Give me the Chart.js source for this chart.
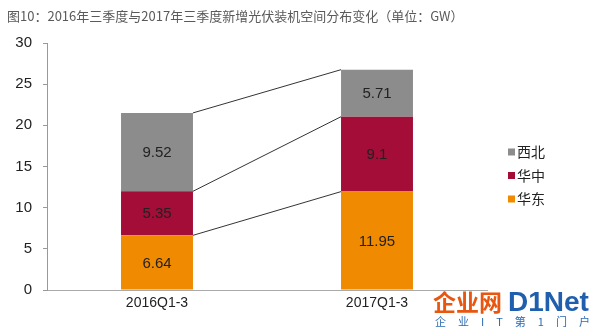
<!DOCTYPE html>
<html>
<head>
<meta charset="utf-8">
<script src="https://cdn.jsdelivr.net/npm/chart.js@4"></script>
<style>
  html, body { margin: 0; padding: 0; background: #fff; }
  #wrap { position: relative; width: 593px; height: 331px; }
  #title {
    position: absolute; left: 7px; top: 6px;
    font: 13px "Noto Sans CJK SC", "Liberation Sans", sans-serif;
    color: #5a5a5a; white-space: nowrap;
  }
  #logo { position: absolute; left: 433px; top: 284px; white-space: nowrap; }
  #logo .cn { font: bold 23px "Noto Sans CJK SC", sans-serif; color: #e8560f; letter-spacing: 0px; }
  #logo .en { font: bold 28px "Liberation Sans", sans-serif; color: #1f5fae; margin-left: 6px; }
  #logo .sub { font: 11px "Noto Sans CJK SC", sans-serif; color: #2a6cb3; letter-spacing: 12px; margin-top: -5px; padding-left: 2px; }
</style>
</head>
<body>
<div id="wrap">
  <canvas id="chart" width="593" height="331"></canvas>
  <div id="title">图10：2016年三季度与2017年三季度新增光伏装机空间分布变化（单位：GW）</div>
  <div id="logo">
    <div><span class="cn">企业网</span><span class="en">D1Net</span></div>
    <div class="sub">企业IT第1门户</div>
  </div>
</div>
<script>
const periods = ['2016Q1-3', '2017Q1-3']
const eastChina = [6.64, 11.95]
const centralChina = [5.35, 9.1]
const northwest = [9.52, 5.71]

const seriesNames = ['华东', '华中', '西北']
const seriesColors = ['#f08a00', '#a30d37', '#8c8c8c']

const baseFont = '"Liberation Sans", "Noto Sans CJK SC", sans-serif'

// value labels in the middle of each segment
const segmentLabels = {
  id: 'segmentLabels',
  afterDatasetsDraw (chart) {
    const ctx = chart.ctx
    ctx.save()
    ctx.font = '15px ' + baseFont
    ctx.fillStyle = '#222'
    ctx.textAlign = 'center'
    ctx.textBaseline = 'middle'
    chart.data.datasets.forEach((ds, i) => {
      chart.getDatasetMeta(i).data.forEach((bar, j) => {
        ctx.fillText(String(ds.data[j]), bar.x, (bar.y + bar.base) / 2 + 1)
      })
    })
    ctx.restore()
  }
}

// thin lines joining the top of each segment across the two bars
const connectors = {
  id: 'connectors',
  afterDatasetsDraw (chart) {
    const ctx = chart.ctx
    ctx.save()
    ctx.strokeStyle = '#333'
    ctx.lineWidth = 1
    chart.data.datasets.forEach((ds, i) => {
      const [a, b] = chart.getDatasetMeta(i).data
      ctx.beginPath()
      ctx.moveTo(a.x + a.width / 2, a.y)
      ctx.lineTo(b.x - b.width / 2, b.y)
      ctx.stroke()
    })
    ctx.restore()
  }
}

// legend to the right of the plot, top series first
const sideLegend = {
  id: 'sideLegend',
  afterDraw (chart) {
    const ctx = chart.ctx
    const area = chart.chartArea
    const x = area.right + 21
    const mid = (area.top + area.bottom) / 2 + 9
    ctx.save()
    ctx.font = '14px "Noto Sans CJK SC", sans-serif'
    ctx.textBaseline = 'middle'
    const items = chart.data.datasets.slice().reverse()
    items.forEach((ds, k) => {
      const y = mid + (k - 1) * 23.5
      ctx.fillStyle = ds.backgroundColor
      ctx.fillRect(x, y - 3.5, 7, 7)
      ctx.fillStyle = '#222'
      ctx.fillText(ds.label, x + 9, y)
    })
    ctx.restore()
  }
}

new Chart(document.getElementById('chart'), {
  type: 'bar',
  data: {
    labels: periods,
    datasets: [eastChina, centralChina, northwest].map((values, i) => ({
      label: seriesNames[i],
      data: values,
      backgroundColor: seriesColors[i],
      barPercentage: 0.327,
      categoryPercentage: 1
    }))
  },
  options: {
    responsive: false,
    animation: false,
    layout: { padding: { top: 43, left: 0, right: 106, bottom: 0 } },
    plugins: {
      legend: { display: false },
      tooltip: { enabled: false }
    },
    scales: {
      x: {
        stacked: true,
        afterFit: s => { s.height = 41 },
        grid: { drawOnChartArea: false, drawTicks: false },
        border: { color: '#aaa' },
        ticks: { color: '#222', padding: 5, font: { size: 14, family: baseFont } }
      },
      y: {
        stacked: true,
        min: 0,
        max: 30,
        afterFit: s => { s.width = 47 },
        grid: { drawOnChartArea: false, tickLength: 4, color: '#999' },
        border: { color: '#999' },
        ticks: { stepSize: 5, color: '#222', padding: 11, font: { size: 15, family: baseFont } }
      }
    }
  },
  plugins: [segmentLabels, connectors, sideLegend]
})
</script>
</body>
</html>
